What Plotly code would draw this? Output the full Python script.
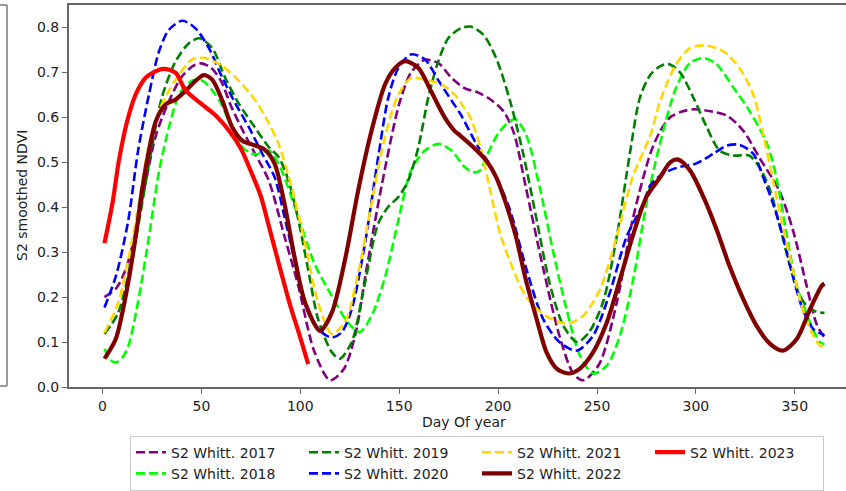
import plotly.graph_objects as go

# ---------------- data ----------------
d2017 = [1, 7, 12, 17, 22, 27, 33, 40, 46, 50, 55, 60, 65, 71, 77, 84, 92, 99, 107, 115, 122, 128, 133, 141, 150, 156, 163, 170, 176, 183, 190, 197, 203, 208, 214, 223, 231, 238, 243, 251, 260, 268, 277, 282, 287, 293, 299, 308, 316, 324, 332, 342, 349, 356, 361, 365]
v2017 = [0.20, 0.22, 0.265, 0.35, 0.46, 0.56, 0.63, 0.69, 0.715, 0.72, 0.71, 0.68, 0.625, 0.57, 0.52, 0.46, 0.335, 0.225, 0.08, 0.015, 0.04, 0.12, 0.25, 0.445, 0.63, 0.70, 0.728, 0.72, 0.69, 0.665, 0.655, 0.637, 0.612, 0.565, 0.445, 0.26, 0.114, 0.03, 0.015, 0.05, 0.188, 0.372, 0.52, 0.57, 0.60, 0.613, 0.618, 0.613, 0.603, 0.57, 0.511, 0.438, 0.35, 0.225, 0.14, 0.11]

d2018 = [1, 4, 7, 10, 13, 18, 23.5, 28.6, 33.6, 38.7, 43, 47, 51, 55.5, 60, 64, 70.7, 75, 78, 84, 89, 99, 107, 116, 124, 130, 136, 143, 150, 156, 163, 170, 176.5, 183, 187.4, 191, 194, 201, 208.5, 214, 221, 228, 234.6, 241.4, 248, 255, 261.6, 268.3, 275, 281.8, 290, 297, 304, 310.5, 319, 327, 336, 341, 346, 351, 357.7, 362.7, 365]
v2018 = [0.085, 0.06, 0.055, 0.065, 0.09, 0.19, 0.335, 0.48, 0.578, 0.651, 0.675, 0.684, 0.68, 0.66, 0.63, 0.592, 0.534, 0.52, 0.518, 0.526, 0.497, 0.379, 0.276, 0.202, 0.144, 0.122, 0.158, 0.247, 0.379, 0.482, 0.526, 0.541, 0.526, 0.49, 0.478, 0.482, 0.512, 0.57, 0.596, 0.563, 0.445, 0.298, 0.173, 0.07, 0.03, 0.048, 0.114, 0.239, 0.408, 0.541, 0.666, 0.721, 0.732, 0.718, 0.666, 0.615, 0.541, 0.46, 0.335, 0.225, 0.144, 0.10, 0.095]

d2019 = [1, 8, 17, 23.5, 30, 37, 43.7, 48.8, 55.5, 62, 69, 77, 84, 89, 94, 99, 104, 109, 116, 120, 126, 132.7, 139.4, 144.5, 149.6, 154.6, 159.7, 164.7, 169.8, 174.8, 181, 186, 192.5, 199, 206, 212.7, 219.5, 226, 233, 240, 246, 253, 260, 266.6, 271.7, 277, 282, 286, 292, 298.7, 305.5, 312, 319, 327, 332, 337.5, 342.5, 347.6, 352.6, 357.7, 362.7, 365]
v2019 = [0.118, 0.166, 0.335, 0.497, 0.644, 0.725, 0.765, 0.776, 0.754, 0.688, 0.63, 0.578, 0.534, 0.512, 0.46, 0.372, 0.261, 0.151, 0.077, 0.063, 0.10, 0.232, 0.364, 0.401, 0.423, 0.46, 0.534, 0.644, 0.725, 0.776, 0.798, 0.802, 0.784, 0.732, 0.637, 0.519, 0.372, 0.232, 0.136, 0.10, 0.122, 0.188, 0.335, 0.519, 0.644, 0.695, 0.714, 0.719, 0.70, 0.644, 0.578, 0.526, 0.515, 0.515, 0.49, 0.438, 0.357, 0.269, 0.202, 0.173, 0.166, 0.165]

d2020 = [1, 7, 13, 18, 23.5, 28.6, 33.6, 40.4, 47, 53.8, 60.6, 67.3, 74, 80.8, 87, 92, 99, 104, 110.8, 116, 121, 126, 132.7, 139.4, 144.5, 149.6, 156, 163, 170, 176.5, 181, 189, 197.5, 206, 214.4, 222.8, 231, 239.7, 248, 256.5, 265, 273.4, 277, 283.5, 292, 300, 308.8, 315.6, 322, 329, 334, 339, 344, 349, 354, 359.4, 363.6, 365]
v2020 = [0.177, 0.25, 0.37, 0.526, 0.651, 0.747, 0.795, 0.815, 0.798, 0.754, 0.688, 0.63, 0.578, 0.519, 0.467, 0.379, 0.247, 0.166, 0.122, 0.11, 0.122, 0.173, 0.32, 0.512, 0.644, 0.71, 0.74, 0.729, 0.681, 0.637, 0.607, 0.541, 0.482, 0.394, 0.261, 0.151, 0.10, 0.081, 0.114, 0.21, 0.335, 0.408, 0.449, 0.475, 0.49, 0.497, 0.519, 0.537, 0.539, 0.519, 0.467, 0.408, 0.335, 0.247, 0.173, 0.129, 0.118, 0.115]

d2021 = [1, 8, 13.4, 18.4, 23.5, 28.6, 33.6, 38.7, 45.4, 52, 60.6, 69, 77.4, 83, 89, 95.6, 102.4, 109, 116, 122.6, 129.3, 136, 142.8, 149.6, 156.3, 163, 171.5, 178, 183, 186, 191, 196, 201, 207.7, 214, 222.8, 231, 236, 243, 251.5, 260, 268, 277, 282, 290, 297, 304.6, 314, 322, 329, 334, 339, 344, 349, 354, 359.4, 362.7, 365]
v2021 = [0.121, 0.188, 0.291, 0.408, 0.541, 0.615, 0.659, 0.695, 0.729, 0.732, 0.714, 0.681, 0.637, 0.596, 0.541, 0.445, 0.32, 0.188, 0.118, 0.144, 0.254, 0.408, 0.556, 0.651, 0.688, 0.684, 0.673, 0.651, 0.62, 0.60, 0.534, 0.438, 0.342, 0.261, 0.202, 0.162, 0.144, 0.142, 0.158, 0.217, 0.335, 0.467, 0.56, 0.637, 0.718, 0.754, 0.76, 0.747, 0.71, 0.651, 0.563, 0.46, 0.357, 0.261, 0.173, 0.114, 0.092, 0.088]

d2022 = [1, 6.7, 11.7, 16.8, 20, 23.5, 27, 32, 37, 42, 47, 51.3, 55.5, 60.6, 65.6, 70.7, 77.4, 82, 87, 92, 97, 102.4, 110, 116, 122.6, 129.3, 136, 142.8, 148, 153, 159.7, 166, 173, 178, 181, 187.4, 194, 199, 204, 209, 214, 219.5, 224.5, 229.6, 235.5, 241.4, 248, 255, 261.6, 268, 275, 282, 287, 291, 297, 303.8, 310.5, 317, 324, 330.7, 337.5, 344, 351, 357.7, 363.6, 365]
v2022 = [0.063, 0.107, 0.202, 0.335, 0.438, 0.526, 0.592, 0.629, 0.64, 0.659, 0.681, 0.694, 0.684, 0.637, 0.578, 0.548, 0.537, 0.528, 0.497, 0.408, 0.291, 0.188, 0.125, 0.166, 0.283, 0.438, 0.57, 0.673, 0.71, 0.725, 0.71, 0.659, 0.60, 0.57, 0.559, 0.534, 0.504, 0.467, 0.408, 0.335, 0.239, 0.151, 0.077, 0.041, 0.03, 0.041, 0.077, 0.144, 0.239, 0.335, 0.423, 0.467, 0.50, 0.506, 0.482, 0.423, 0.35, 0.269, 0.195, 0.136, 0.096, 0.081, 0.107, 0.173, 0.225, 0.23]

d2023 = [1, 5, 8.3, 12.5, 16.8, 21.8, 27, 31, 37, 42, 50, 57, 64, 70, 75, 80, 84, 90, 95, 100, 104]
v2023 = [0.32, 0.408, 0.504, 0.592, 0.651, 0.688, 0.703, 0.708, 0.699, 0.66, 0.63, 0.605, 0.57, 0.53, 0.48, 0.425, 0.36, 0.26, 0.18, 0.11, 0.051]

names = ["S2 Whitt. 2017", "S2 Whitt. 2018", "S2 Whitt. 2019", "S2 Whitt. 2020",
         "S2 Whitt. 2021", "S2 Whitt. 2022", "S2 Whitt. 2023"]
days = [d2017, d2018, d2019, d2020, d2021, d2022, d2023]
vals = [v2017, v2018, v2019, v2020, v2021, v2022, v2023]
colors = ["#800080", "#00ff00", "#008000", "#0000ff", "#ffd700", "#800000", "#ff0000"]
dashed = [True, True, True, True, True, False, False]
ranks = [1, 5, 2, 6, 3, 7, 4]  # column-major legend like matplotlib ncol=4

xticks = [0, 50, 100, 150, 200, 250, 300, 350]
yticks = [0.0, 0.1, 0.2, 0.3, 0.4, 0.5, 0.6, 0.7, 0.8]

# ---------------- layout geometry (pixels) ----------------
W, H = 846, 491
L, R, T, B = 69, 846, 5, 390


def px(x):
    return (x - L) / (R - L)


def py(y):
    return (B - y) / (B - T)


fig = go.Figure()
for n, d, v, c, dsh, rk in zip(names, days, vals, colors, dashed, ranks):
    fig.add_trace(go.Scatter(
        x=d, y=v, name=n, mode="lines", legendrank=rk,
        line=dict(color=c, width=2.6 if dsh else 4.2,
                  dash="9px,4px" if dsh else "solid", shape="spline", smoothing=0.8),
    ))

FONT = "DejaVu Sans, Arial, sans-serif"
AX = "#666666"
FR = dict(color="#777777", width=1.5)

fig.update_layout(
    width=W, height=H,
    margin=dict(l=L, r=W - R, t=T, b=H - B),
    paper_bgcolor="white", plot_bgcolor="white",
    font=dict(family=FONT, size=14, color="#222222"),
    showlegend=True,
    legend=dict(
        orientation="h", x=px(130), y=py(439), xanchor="left", yanchor="top",
        bgcolor="white", bordercolor="#cccccc", borderwidth=1,
        entrywidth=128, entrywidthmode="pixels",
        font=dict(family=FONT, size=14, color="#222222"),
        itemwidth=30, tracegroupgap=0,
    ),
    xaxis=dict(
        range=[(L - 102.5) / 1.978, (R - 102.5) / 1.978],
        tickvals=xticks, ticktext=[str(t) for t in xticks],
        showgrid=False, zeroline=False, showline=True, linecolor=AX, linewidth=2,
        mirror=True,
        ticks="outside", ticklen=5, tickwidth=1.3, tickcolor=AX,
        tickfont=dict(family=FONT, size=14, color="#222222"),
    ),
    yaxis=dict(
        range=[0, 0.85],
        tickvals=yticks, ticktext=["%.1f" % t for t in yticks],
        showgrid=False, zeroline=False, showline=True, linecolor=AX, linewidth=2,
        ticks="outside", ticklen=5, tickwidth=1.3, tickcolor=AX,
        tickfont=dict(family=FONT, size=14, color="#222222"),
    ),
    annotations=[
        dict(text="Day Of year", x=px(463.5), y=py(425), xref="paper", yref="paper",
             showarrow=False, xanchor="center", yanchor="middle",
             font=dict(family=FONT, size=14, color="#222222")),
        dict(text="S2 smoothed NDVI", x=px(22), y=py(197.5), xref="paper", yref="paper",
             showarrow=False, xanchor="center", yanchor="middle", textangle=-90,
             font=dict(family=FONT, size=14, color="#222222")),
    ],
    shapes=[
        # legend shadow
        dict(type="rect", xref="paper", yref="paper", x0=px(133), x1=px(808),
             y0=py(442), y1=py(491), fillcolor="#b5b5b5", line=dict(width=0), layer="below"),
        # frame of the neighbouring panel at the left edge
        dict(type="line", xref="paper", yref="paper", x0=px(7), x1=px(7), y0=py(5), y1=py(389),
             line=FR),
        dict(type="line", xref="paper", yref="paper", x0=px(0), x1=px(7), y0=py(5), y1=py(5),
             line=FR),
        dict(type="line", xref="paper", yref="paper", x0=px(0), x1=px(7), y0=py(389), y1=py(389),
             line=FR),
    ],
)

POST = (
    "document.documentElement.style.margin='0px';"
    "document.body.style.margin='0px';"
    "document.body.style.overflow='hidden';"
    "var gd=document.getElementById('{plot_id}');"
    "gd.style.position='fixed';gd.style.left='0px';gd.style.top='0px';"
    "window.scrollTo(0,0);"
)
fig.write_html("out.html", config={"displayModeBar": False}, post_script=POST)
